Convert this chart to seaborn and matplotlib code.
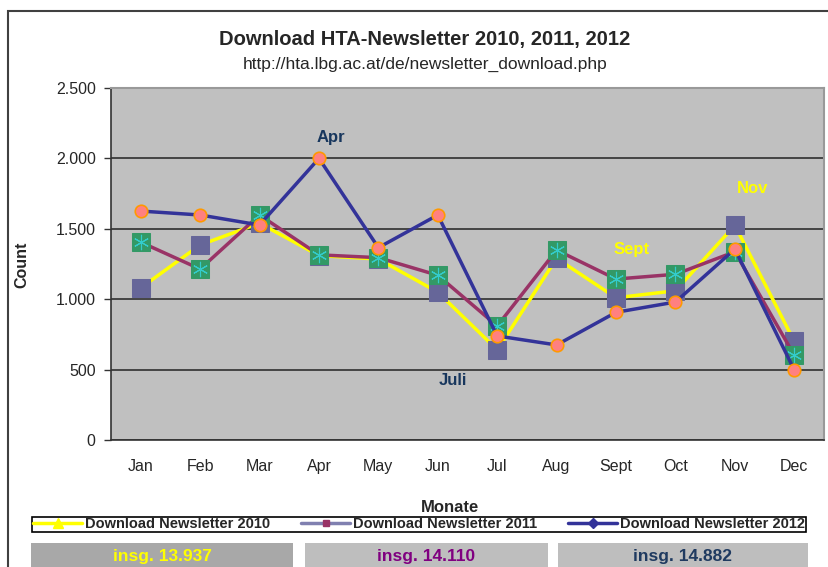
import numpy as np
import pandas as pd
import matplotlib
matplotlib.use("Agg")
import matplotlib.pyplot as plt
from matplotlib.lines import Line2D
from matplotlib.patches import Rectangle
from matplotlib.ticker import FuncFormatter
import seaborn as sns

# monthly downloads
months = ['Jan', 'Feb', 'Mar', 'Apr', 'May', 'Jun', 'Jul', 'Aug', 'Sept', 'Oct', 'Nov', 'Dec']
dl_2010 = [1080, 1385, 1540, 1310, 1285, 1050, 640, 1290, 1010, 1060, 1525, 700]
dl_2011 = [1405, 1214, 1598, 1315, 1295, 1170, 810, 1349, 1143, 1177, 1337, 601]
dl_2012 = [1626, 1598, 1527, 2000, 1366, 1598, 739, 675, 907, 980, 1356, 497]
totals = ['insg. 13.937', 'insg. 14.110', 'insg. 14.882']
legend_labels = ['Download Newsletter 2010', 'Download Newsletter 2011', 'Download Newsletter 2012']

sns.set_style("white")
plt.rcParams['font.family'] = ['Liberation Sans', 'DejaVu Sans']

df = pd.DataFrame({'month': months, 'y2010': dl_2010, 'y2011': dl_2011, 'y2012': dl_2012})
df['pos'] = np.arange(len(months))

fig = plt.figure(figsize=(8.29, 5.67), dpi=100)
ax = fig.add_axes([111 / 829, 1 - 440 / 567, (824 - 111) / 829, (440 - 88) / 567])
ax.set_facecolor('#C0C0C0')

# 2010: yellow line, slate squares
sns.lineplot(data=df, x='pos', y='y2010', ax=ax, sort=False, color='#FFFF00', lw=2.5,
             marker='s', markersize=12.5, markerfacecolor='#666699', markeredgecolor='#666699', zorder=3)
# 2011: purple line, green squares with asterisk
sns.lineplot(data=df, x='pos', y='y2011', ax=ax, sort=False, color='#993366', lw=2.5,
             marker='s', markersize=12.5, markerfacecolor='#339966', markeredgecolor='#339966', zorder=4)
sns.lineplot(data=df, x='pos', y='y2011', ax=ax, sort=False, linestyle='none',
             marker=(6, 2, 0), markersize=11, markeredgecolor='#33CCCC', markeredgewidth=0.8, zorder=5)
# 2012: navy line, salmon circles
sns.lineplot(data=df, x='pos', y='y2012', ax=ax, sort=False, color='#333399', lw=2.5,
             marker='o', markersize=9, markerfacecolor='#FF8080', markeredgecolor='#FF9900',
             markeredgewidth=1.2, zorder=6)

ax.set_xlim(-0.5, 11.5)
ax.set_ylim(0, 2500)
ax.set_yticks(np.arange(0, 2501, 500))
ax.yaxis.set_major_formatter(FuncFormatter(lambda v, p: f"{int(v):,}".replace(',', '.')))
ax.set_xticks(df['pos'])
ax.set_xticklabels(months)
ax.set_xticks(np.arange(-0.5, 12, 1), minor=True)
ax.tick_params(axis='x', which='major', length=0, pad=14, labelsize=11.5)
ax.tick_params(axis='x', which='minor', length=5, width=1, color='#333333', direction='out')
ax.tick_params(axis='y', length=5, width=1, color='#333333', direction='out', left=True, labelsize=11.5, pad=6)
ax.grid(axis='y', color='#3a3a3a', lw=1.3)
ax.set_axisbelow(True)
ax.set_xlabel('')
ax.set_ylabel('')
for side in ['top', 'right']:
    ax.spines[side].set_color('#999999')
    ax.spines[side].set_linewidth(1.5)
for side in ['left', 'bottom']:
    ax.spines[side].set_color('#333333')
    ax.spines[side].set_linewidth(1.2)

# month annotations
ax.text(3.2, 2150, 'Apr', color='#17365D', fontsize=12, fontweight='bold', ha='center', va='center')
ax.text(5.26, 426, 'Juli', color='#17365D', fontsize=12, fontweight='bold', ha='center', va='center')
ax.text(8.27, 1350, 'Sept', color='#FFFF00', fontsize=12, fontweight='bold', ha='center', va='center')
ax.text(10.29, 1783, 'Nov', color='#FFFF00', fontsize=12, fontweight='bold', ha='center', va='center')

# titles and axis labels
fig.text(425 / 829, 1 - 40 / 567, 'Download HTA-Newsletter 2010, 2011, 2012', ha='center', va='center',
         fontsize=14.5, fontweight='bold')
fig.text(425 / 829, 1 - 64 / 567, 'http://hta.lbg.ac.at/de/newsletter_download.php', ha='center', va='center',
         fontsize=12.5)
fig.text(22 / 829, 1 - 265 / 567, 'Count', rotation=90, ha='center', va='center', fontsize=11.5, fontweight='bold')
fig.text(450 / 829, 1 - 507 / 567, 'Monate', ha='center', va='center', fontsize=12, fontweight='bold')

# outer chart frame
fig.patches.append(Rectangle((8 / 829, -0.1), 1.1, 1 - 11 / 567 + 0.1, transform=fig.transFigure,
                             fill=False, edgecolor='#404040', lw=1.5, clip_on=False))

handles = [
    Line2D([], [], color='#FFFF00', lw=2.5, marker='^', markersize=7, markerfacecolor='#FFFF00', markeredgecolor='#FFFF00'),
    Line2D([], [], color='#8080B0', lw=2.5, marker='s', markersize=5, markerfacecolor='#993366', markeredgecolor='#993366'),
    Line2D([], [], color='#333399', lw=2.5, marker='D', markersize=5, markerfacecolor='#333399', markeredgecolor='#333399'),
]
leg = fig.legend(handles, legend_labels, ncol=3, loc='lower left', mode='expand',
                 bbox_to_anchor=(32 / 829, 1 - 532 / 567, (806 - 32) / 829, 19 / 567),
                 frameon=True, fancybox=False, edgecolor='black', framealpha=1,
                 prop={'weight': 'bold', 'size': 10.5}, handlelength=3.4, handletextpad=0.2,
                 borderpad=0.05, borderaxespad=0, columnspacing=1.5)
leg.get_frame().set_linewidth(1.2)

# total boxes below the legend
boxes = [(31, 293, '#A8A8A8', '#FFFF00'), (305, 548, '#BEBEBE', '#800080'), (558, 808, '#BEBEBE', '#1F3A60')]
for (x0, x1, fc, tc), label in zip(boxes, totals):
    fig.patches.append(Rectangle((x0 / 829, -0.05), (x1 - x0) / 829, 0.05 + (567 - 543) / 567,
                                 transform=fig.transFigure, facecolor=fc, edgecolor='none'))
    fig.text((x0 + x1) / 2 / 829, 1 - 557 / 567, label, ha='center', va='center', color=tc,
             fontsize=12.5, fontweight='bold')

fig.savefig('out.png', dpi=100)
